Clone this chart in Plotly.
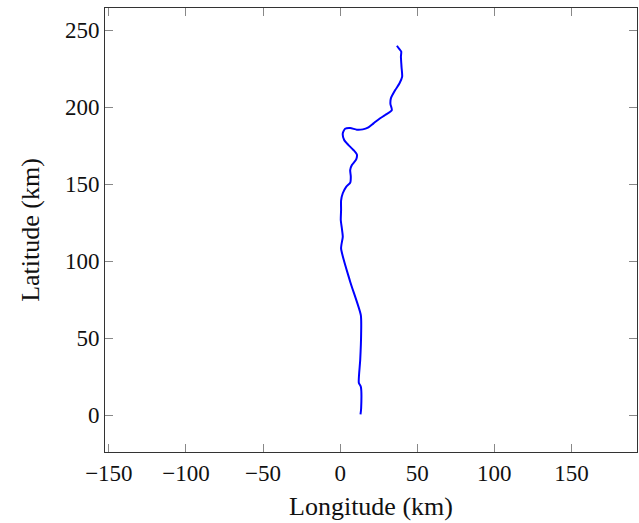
import plotly.graph_objects as go

# Track coordinates (km), from south to north
longitude = [13.2, 13.6, 13.4, 12.1, 13.0, 13.6, 13.4, 6.5, 0.6, 1.7, 1.1, 0.4, 0.6, 0.6,
             1.7, 3.9, 6.5, 6.9, 6.5, 7.6, 10.4, 10.8, 8.6, 5.4, 2.6, 1.7, 3.2, 6.5, 10.8,
             14.7, 18.0, 21.6, 25.5, 29.2, 33.5, 32.6, 32.9, 35.7, 38.5, 40.2, 39.8, 39.4,
             39.6, 38.3, 36.8]
latitude = [0.4, 4.3, 18.4, 21.0, 35.7, 53.0, 64.9, 86.6, 108.2, 115.8, 121.2, 126.6, 133.1, 139.2,
            144.0, 148.2, 150.8, 154.8, 159.1, 162.3, 166.0, 169.3, 172.1, 175.3, 178.6, 182.9, 185.9, 186.4, 185.3,
            185.5, 186.6, 189.4, 192.4, 194.8, 198.0, 202.0, 205.6, 211.0, 215.4, 219.7, 226.0, 232.7,
            236.0, 237.7, 239.8]

x_ticks = [-150, -100, -50, 0, 50, 100, 150]
y_ticks = [0, 50, 100, 150, 200, 250]

fig = go.Figure()
fig.add_trace(go.Scatter(x=longitude, y=latitude, mode="lines",
                         line=dict(color="#0000ff", width=2, shape="spline", smoothing=0.6),
                         showlegend=False))

font_family = "Liberation Serif, DejaVu Serif, serif"
axis_common = dict(showgrid=False, zeroline=False, showline=True, linecolor="#333",
                   linewidth=1, mirror="ticks", ticks="inside", ticklen=8,
                   tickcolor="#888", tickwidth=1,
                   tickfont=dict(family=font_family, size=23, color="#111"))

fig.update_layout(
    width=639, height=523,
    margin=dict(l=105, r=2, t=8, b=71),
    paper_bgcolor="white", plot_bgcolor="white",
    font=dict(family=font_family, color="#111"),
    xaxis=dict(range=[-152.5, 192.5], tickvals=x_ticks,
               title=dict(text="Longitude (km)", font=dict(family=font_family, size=26), standoff=12),
               **axis_common),
    yaxis=dict(range=[-24, 264.3], tickvals=y_ticks,
               title=dict(text="Latitude (km)", font=dict(family=font_family, size=26), standoff=17),
               **axis_common),
)

fig.write_html("out.html", config={"displayModeBar": False},
               post_script="document.body.style.margin='0';document.body.style.overflow='hidden';")
